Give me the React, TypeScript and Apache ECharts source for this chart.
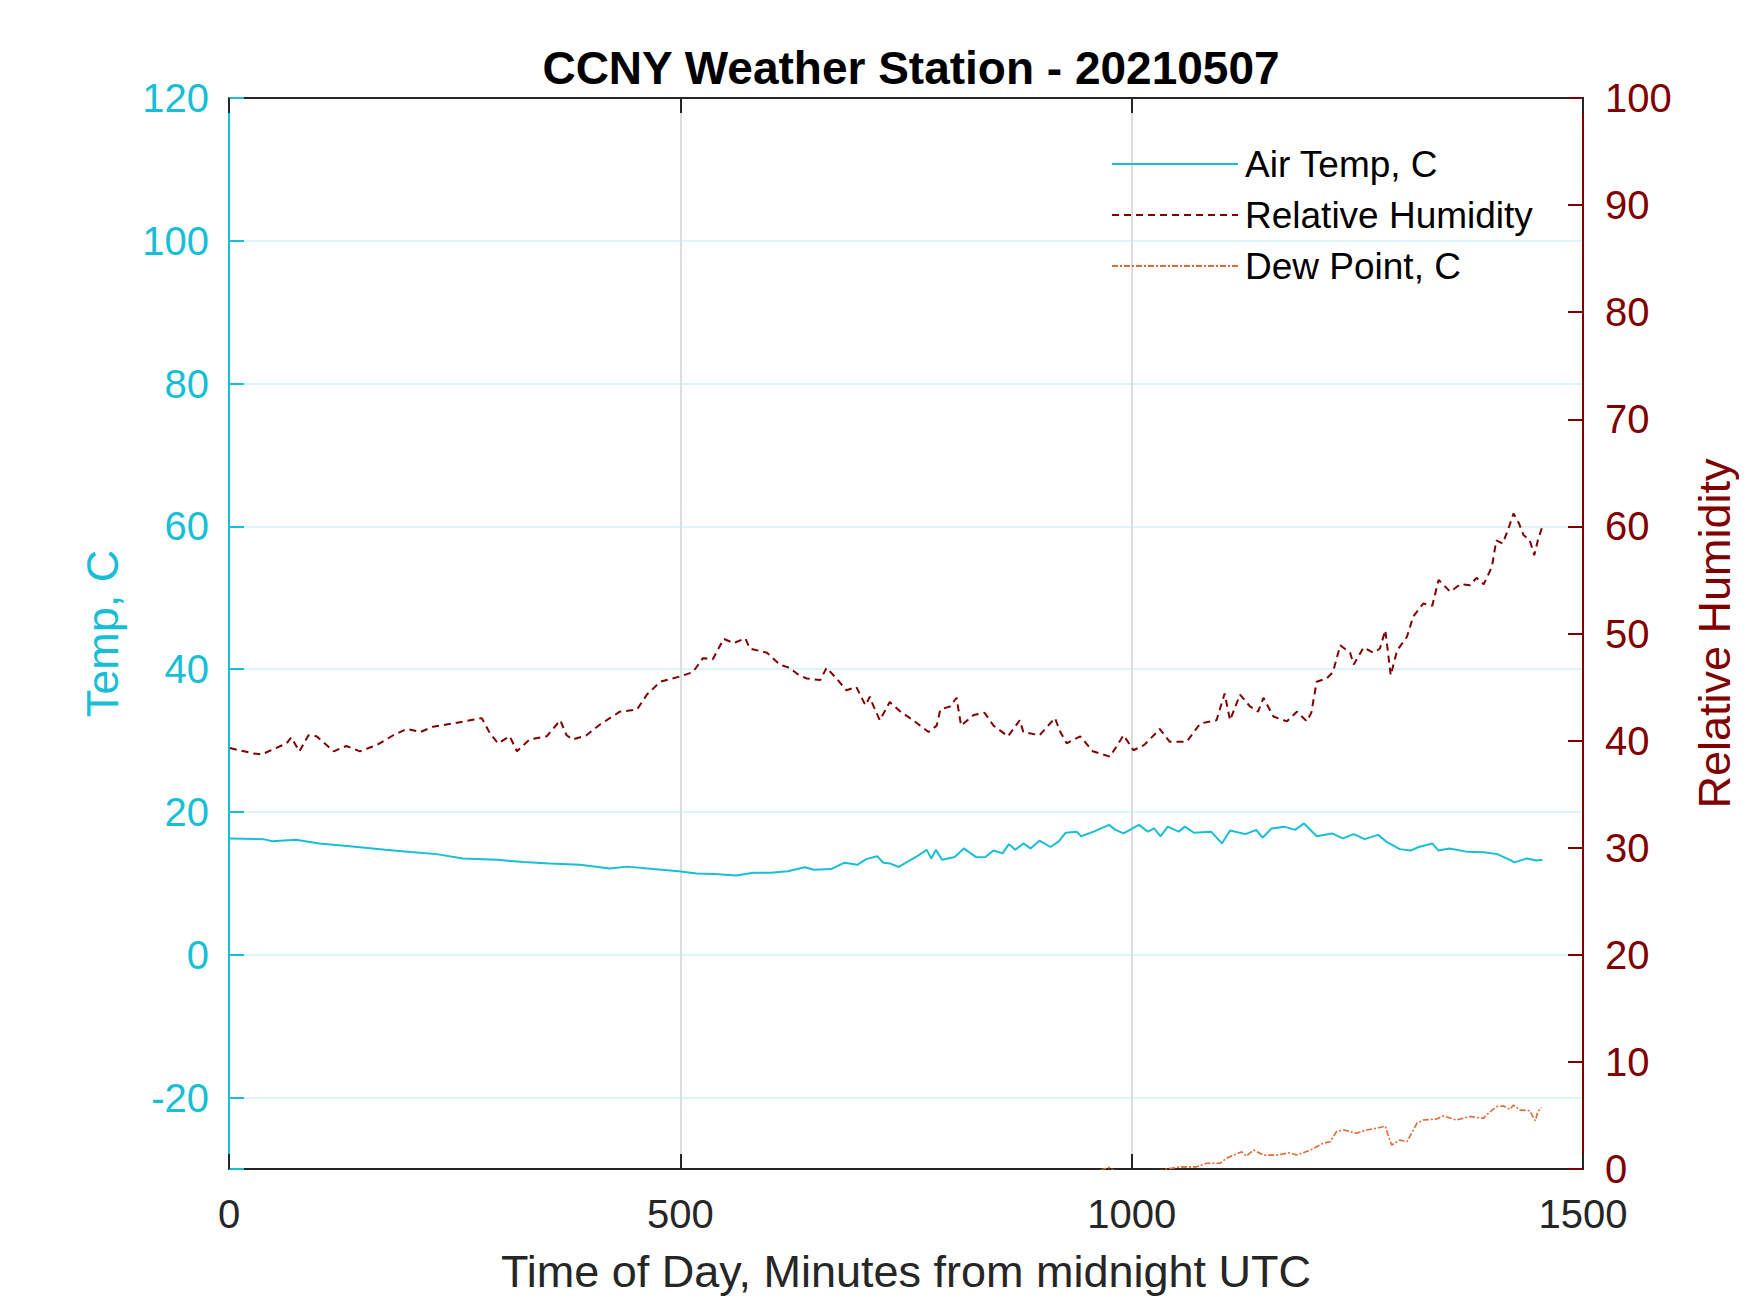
import React, { useEffect, useRef } from "react";
import * as echarts from "echarts";

const TITLE = "CCNY Weather Station - 20210507";
const X_TICKS_MAX = 1500;

const tempMinutes = [0, 38, 48, 74, 100, 134, 173, 201, 230, 259, 297, 326, 355, 389, 422, 441, 470, 498, 518, 538, 562, 581, 600, 619, 638, 648, 667, 682, 696, 706, 718, 725, 732, 742, 761, 773, 778, 783, 790, 804, 814, 828, 838, 847, 857, 864, 871, 880, 888, 898, 910, 919, 927, 939, 944, 958, 975, 982, 991, 998, 1008, 1018, 1025, 1032, 1040, 1052, 1059, 1069, 1088, 1100, 1109, 1126, 1138, 1145, 1155, 1169, 1181, 1191, 1205, 1222, 1234, 1246, 1258, 1273, 1282, 1297, 1309, 1318, 1333, 1340, 1352, 1371, 1390, 1405, 1419, 1424, 1438, 1448, 1455];
const tempValues = [16.3, 16.2, 15.9, 16.1, 15.6, 15.2, 14.7, 14.4, 14.1, 13.5, 13.3, 13.0, 12.8, 12.6, 12.1, 12.35, 12.0, 11.7, 11.4, 11.3, 11.1, 11.5, 11.5, 11.7, 12.25, 11.9, 12.0, 12.9, 12.6, 13.4, 13.8, 12.9, 12.8, 12.3, 13.7, 14.7, 13.5, 14.7, 13.3, 13.7, 14.9, 13.65, 13.7, 14.6, 14.2, 15.5, 14.7, 15.6, 14.9, 16.0, 15.1, 15.85, 17.1, 17.25, 16.6, 17.25, 18.2, 17.5, 17.0, 17.5, 18.2, 17.25, 17.7, 16.6, 17.95, 17.25, 17.95, 17.1, 17.25, 15.6, 17.4, 16.9, 17.5, 16.4, 17.7, 17.95, 17.5, 18.4, 16.6, 17.0, 16.3, 16.9, 16.2, 16.8, 15.85, 14.8, 14.6, 15.1, 15.6, 14.6, 14.9, 14.45, 14.35, 14.1, 13.3, 12.95, 13.5, 13.2, 13.3];

const rhMinutes = [1, 27, 36, 64, 69, 78, 88, 97, 116, 130, 145, 164, 182, 197, 212, 226, 248, 267, 280, 289, 298, 311, 319, 333, 352, 367, 374, 381, 396, 411, 433, 452, 463, 478, 500, 514, 525, 536, 548, 559, 572, 577, 596, 610, 621, 630, 640, 655, 662, 673, 684, 695, 705, 710, 712, 721, 732, 744, 758, 775, 784, 788, 799, 806, 811, 825, 837, 847, 863, 876, 880, 898, 915, 921, 928, 943, 957, 976, 991, 1002, 1014, 1028, 1031, 1042, 1061, 1076, 1094, 1103, 1109, 1120, 1131, 1140, 1146, 1157, 1172, 1183, 1194, 1199, 1205, 1216, 1223, 1231, 1242, 1246, 1257, 1268, 1275, 1281, 1287, 1294, 1305, 1312, 1323, 1333, 1340, 1353, 1364, 1375, 1382, 1390, 1399, 1404, 1411, 1417, 1423, 1429, 1434, 1441, 1446, 1450, 1455];
const rhValues = [39.3, 38.8, 38.7, 39.75, 40.3, 39.0, 40.5, 40.4, 39.0, 39.5, 39.0, 39.6, 40.5, 41.1, 40.8, 41.3, 41.6, 41.9, 42.1, 40.7, 39.75, 40.4, 39.0, 40.1, 40.4, 41.9, 40.5, 40.1, 40.5, 41.5, 42.7, 42.9, 44.3, 45.5, 46.0, 46.4, 47.7, 47.6, 49.5, 49.1, 49.55, 48.6, 48.2, 47.1, 46.8, 46.2, 45.8, 45.65, 46.8, 45.8, 44.7, 45.0, 43.3, 44.1, 43.6, 41.9, 43.6, 42.7, 41.9, 40.8, 41.4, 42.9, 43.2, 44.0, 41.4, 42.4, 42.6, 41.4, 40.4, 41.9, 40.8, 40.5, 42.1, 40.8, 39.75, 40.4, 39.0, 38.5, 40.5, 39.1, 39.6, 40.8, 41.1, 39.9, 39.9, 41.6, 41.9, 44.4, 41.9, 44.3, 43.2, 42.7, 44.0, 42.25, 41.8, 42.7, 41.8, 42.6, 45.5, 45.8, 46.4, 48.9, 48.2, 47.1, 48.7, 48.2, 48.6, 50.3, 46.1, 48.4, 49.7, 51.6, 52.8, 52.6, 55.0, 53.9, 54.6, 54.5, 55.2, 54.6, 56.2, 58.7, 58.4, 59.7, 61.2, 60.3, 59.2, 58.7, 57.3, 58.7, 60.0];

const dewMinutes = [940, 975, 985, 1010, 1039, 1054, 1072, 1083, 1098, 1105, 1113, 1122, 1127, 1135, 1146, 1161, 1175, 1183, 1198, 1212, 1220, 1227, 1235, 1249, 1260, 1271, 1281, 1284, 1288, 1297, 1305, 1310, 1316, 1323, 1338, 1345, 1360, 1375, 1390, 1393, 1404, 1412, 1419, 1423, 1430, 1441, 1447, 1450, 1454];
const dewValues = [-0.8, 0.16, -0.4, -0.6, 0.0, 0.2, 0.2, 0.53, 0.53, 1.0, 1.3, 1.6, 1.2, 1.77, 1.3, 1.3, 1.52, 1.3, 1.77, 2.4, 2.55, 3.5, 3.64, 3.33, 3.64, 3.8, 4.0, 3.17, 2.24, 2.7, 2.55, 3.33, 4.27, 4.57, 4.67, 4.95, 4.57, 4.9, 4.73, 5.05, 5.82, 5.88, 5.57, 5.97, 5.5, 5.45, 4.5, 5.35, 5.75];

const seriesNames = ["Air Temp, C", "Relative Humidity", "Dew Point, C"];

const CYAN = "#17BFD6";
const MAROON = "#800000";
const ORANGE = "#DF6A34";
const DARK = "#262626";
const FONT = "Liberation Sans, Arial, Helvetica, sans-serif";

function zip(xs: number[], ys: number[]) {
  return xs.map((x, i) => [x, ys[i]]);
}

export default function App() {
  const ref = useRef<HTMLDivElement | null>(null);

  useEffect(() => {
    document.body.style.margin = "0";
    if (!ref.current) return;
    const chart = echarts.init(ref.current, undefined, { renderer: "svg" });

    const xCommon = {
      type: "value",
      min: 0,
      max: X_TICKS_MAX,
      interval: 500,
    };

    chart.setOption({
      animation: false,
      backgroundColor: "#ffffff",
      textStyle: { fontFamily: FONT },
      title: {
        text: TITLE,
        left: 906,
        top: 40,
        textAlign: "center",
        textStyle: { fontSize: 46, fontWeight: "bold", color: "#000", fontFamily: FONT },
      },
      legend: {
        orient: "vertical",
        left: 1106,
        top: 140,
        itemWidth: 126,
        itemHeight: 14,
        itemGap: 13,
        data: seriesNames,
        itemStyle: { opacity: 0 },
        textStyle: { fontSize: 37, color: "#000", lineHeight: 38, fontFamily: FONT, padding: [0, 0, 0, 2] },
      },
      grid: { left: 229, right: 167, top: 98, bottom: 144, containLabel: false, outerBoundsMode: "none" },
      xAxis: [
        {
          ...xCommon,
          position: "bottom",
          axisLine: { show: true, onZero: false, lineStyle: { color: DARK, width: 2 } },
          axisTick: { show: true, inside: true, length: 15, lineStyle: { color: DARK, width: 2 } },
          axisLabel: { color: DARK, fontSize: 40, margin: 25, fontFamily: FONT, formatter: (v: number) => String(v) },
          splitLine: { show: true, lineStyle: { color: "#DADDE2", width: 2 } },
          name: "Time of Day, Minutes from midnight UTC",
          nameLocation: "middle",
          nameGap: 80,
          nameTextStyle: { color: DARK, fontSize: 45, fontFamily: FONT },
        },
        {
          ...xCommon,
          position: "top",
          axisLine: { show: true, onZero: false, lineStyle: { color: DARK, width: 2 } },
          axisTick: { show: true, inside: true, length: 15, lineStyle: { color: DARK, width: 2 } },
          axisLabel: { show: false },
          splitLine: { show: false },
        },
      ],
      yAxis: [
        {
          type: "value",
          min: -30,
          max: 120,
          splitNumber: 7,
          position: "left",
          axisLine: { show: true, onZero: false, lineStyle: { color: CYAN, width: 2 } },
          axisTick: { show: true, inside: true, length: 15, lineStyle: { color: CYAN, width: 2 } },
          axisLabel: {
            color: CYAN,
            fontSize: 40,
            margin: 20,
            fontFamily: FONT,
            formatter: (v: number) => (v === -30 ? "" : String(v)),
          },
          splitLine: { show: true, lineStyle: { color: "#DCF5F9", width: 2 } },
          name: "Temp, C",
          nameLocation: "middle",
          nameGap: 104,
          nameTextStyle: { color: CYAN, fontSize: 45, fontFamily: FONT },
        },
        {
          type: "value",
          min: 0,
          max: 100,
          interval: 10,
          position: "right",
          axisLine: { show: true, onZero: false, lineStyle: { color: MAROON, width: 2 } },
          axisTick: { show: true, inside: true, length: 15, lineStyle: { color: MAROON, width: 2 } },
          axisLabel: { color: MAROON, fontSize: 40, margin: 22, fontFamily: FONT },
          splitLine: { show: false },
          name: "Relative Humidity",
          nameLocation: "middle",
          nameGap: 109,
          nameTextStyle: { color: MAROON, fontSize: 45, fontFamily: FONT },
        },
      ],
      series: [
        {
          name: seriesNames[0],
          type: "line",
          xAxisIndex: 0,
          yAxisIndex: 0,
          data: zip(tempMinutes, tempValues),
          symbol: "none",
          color: CYAN,
          lineStyle: { color: CYAN, width: 2 },
        },
        {
          name: seriesNames[1],
          type: "line",
          xAxisIndex: 0,
          yAxisIndex: 1,
          data: zip(rhMinutes, rhValues),
          symbol: "none",
          color: MAROON,
          lineStyle: { color: MAROON, width: 2, type: [7, 5] },
        },
        {
          name: seriesNames[2],
          type: "line",
          xAxisIndex: 0,
          yAxisIndex: 1,
          data: zip(dewMinutes, dewValues),
          symbol: "none",
          color: ORANGE,
          lineStyle: { color: ORANGE, width: 1.6, type: [6, 2, 2, 2] },
        },
      ],
    });

    return () => chart.dispose();
  }, []);

  return (
    <div
      ref={ref}
      style={{ position: "fixed", left: 0, top: 0, width: 1750, height: 1313, background: "#fff" }}
    />
  );
}
